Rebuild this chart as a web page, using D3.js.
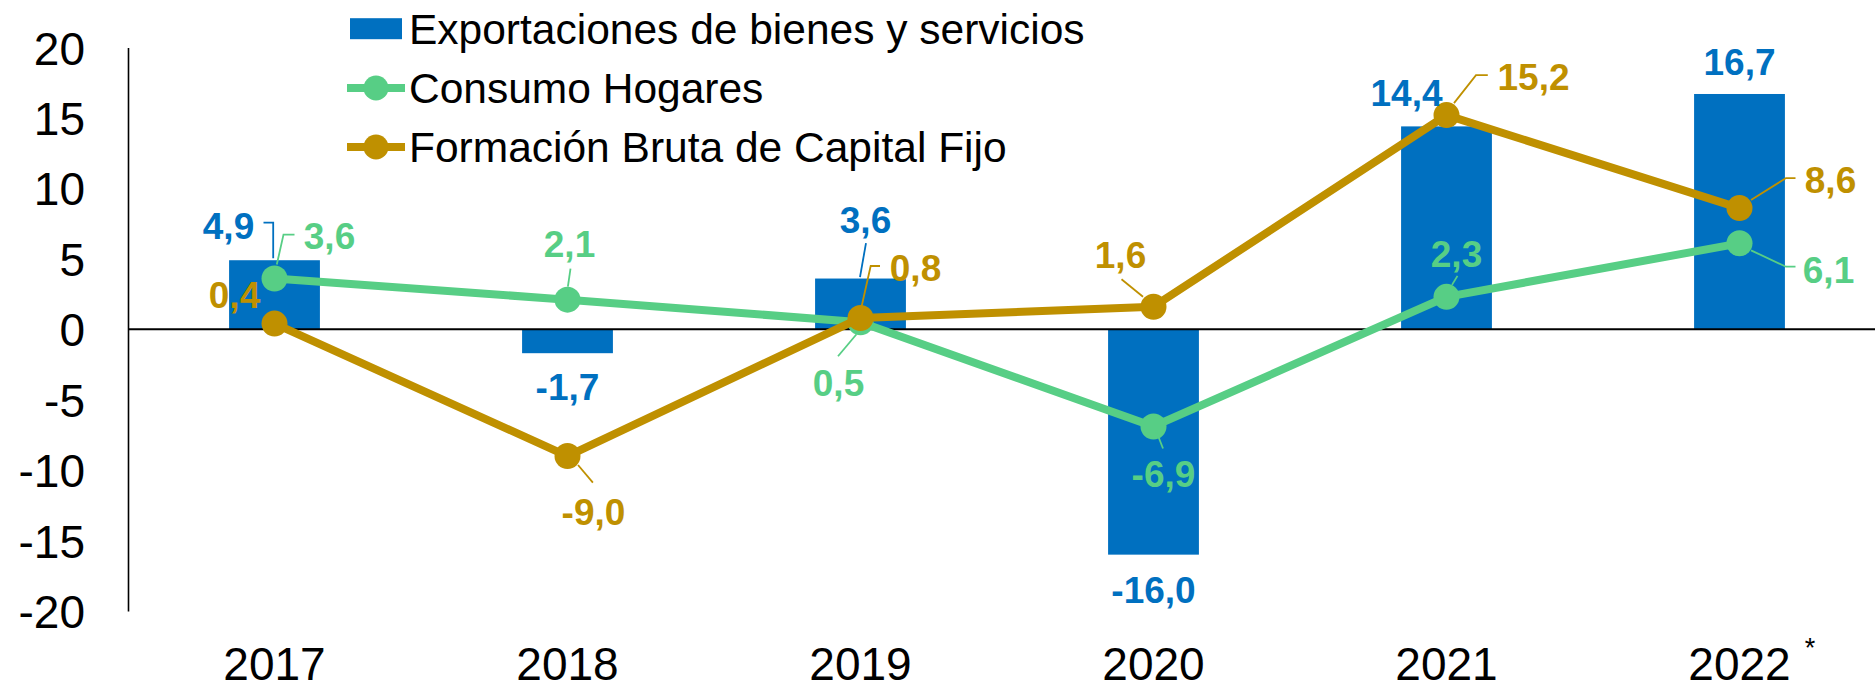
<!DOCTYPE html>
<html>
<head>
<meta charset="utf-8">
<script src="https://cdn.jsdelivr.net/npm/d3@7"></script>
<style>
  html, body { margin: 0; padding: 0; background: #ffffff; }
  svg { display: block; font-family: "Liberation Sans", Arial, sans-serif; }
</style>
</head>
<body>
<svg id="chart" width="1875" height="689"></svg>
<script>
// ---- Data ----
const years = ["2017", "2018", "2019", "2020", "2021", "2022"];
const exportaciones = [4.9, -1.7, 3.6, -16.0, 14.4, 16.7];
const consumo = [3.6, 2.1, 0.5, -6.9, 2.3, 6.1];
const formacion = [0.4, -9.0, 0.8, 1.6, 15.2, 8.6];
const yTicks = [20, 15, 10, 5, 0, -5, -10, -15, -20];
const seriesNames = ["Exportaciones de bienes y servicios", "Consumo Hogares", "Formación Bruta de Capital Fijo"];

// ---- Label placement (offsets relative to the data point, px) ----
const expLabelOffsets = [[-46, -34], [0, 34], [5, -58], [0, 35], [-40, -33], [0, -32]];
const conLabelOffsets = [[55, -42], [2, -56], [-22, 61], [10, 48], [10, -43], [89, 27]];
const forLabelOffsets = [[-40, -29], [26, 56], [55, -50], [-33, -52], [87, -38], [91, -28]];
const expLeaders = [[[-11, -37.5], [-1.3, -37.5], [-1.3, -2]], null, [[5.5, -35.5], [-0.5, -1.5]], null, null, null];
const conLeaders = [[[20, -44], [9, -44], [2.3, -14]], [[3, -31], [0.4, -13]], [[-22.5, 34], [-4, 12]],
                    [[2.5, 4], [9.5, 22]], [[11, -21], [5.5, -12]], [[11.5, 7], [46.5, 23.4], [56, 23.4]]];
const forLeaders = [null, [[10.5, 9], [25.4, 26.6]], [[19.5, -52], [10.2, -52], [1.2, -12]],
                    [[-32, -27.4], [-10.5, -10]], [[41.3, -40], [29.5, -40], [7.5, -12]],
                    [[11.5, -8], [46.5, -30], [56, -30]]];

const colBlue = "#0070C0", colGreen = "#57CE85", colGold = "#BF9000";

const svg = d3.select("#chart");
const x = d3.scaleBand().domain(years).range([128, 1886]).padding(0);
const y = d3.scaleLinear().domain([-20, 20]).range([611, 47.5]);
const cx = d => x(d) + x.bandwidth() / 2;
const barW = x.bandwidth() * 0.31;
const fmt = v => d3.format(".1f")(v).replace(".", ",").replace("−", "-");

// bars
svg.append("g").selectAll("rect").data(years).join("rect")
  .attr("x", d => cx(d) - barW / 2)
  .attr("width", barW)
  .attr("y", (d, i) => y(Math.max(0, exportaciones[i])))
  .attr("height", (d, i) => Math.abs(y(exportaciones[i]) - y(0)))
  .attr("fill", colBlue);

// y axis
const yAxis = d3.axisLeft(y).tickValues(yTicks).tickSize(0).tickPadding(43).tickFormat(d => d3.format("d")(d).replace("−", "-"));
const gy = svg.append("g").attr("transform", "translate(128,0)").call(yAxis);
gy.select(".domain").attr("stroke", "#000").attr("stroke-width", 1.6);
gy.selectAll("text").attr("font-size", 46).attr("fill", "#000").attr("dy", "0.36em")
  .attr("font-family", "'Liberation Sans', Arial, sans-serif");

// zero line
svg.append("line").attr("x1", 128).attr("x2", 1875).attr("y1", y(0)).attr("y2", y(0))
  .attr("stroke", "#000").attr("stroke-width", 1.8);

// x labels
const xAxis = d3.axisBottom(x).tickSize(0).tickPadding(0);
const gx = svg.append("g").attr("transform", "translate(0,680)").call(xAxis);
gx.select(".domain").remove();
gx.selectAll("text").attr("font-size", 46).attr("fill", "#000").attr("dy", 0)
  .attr("font-family", "'Liberation Sans', Arial, sans-serif");
svg.append("text").attr("x", 1810).attr("y", 657).attr("text-anchor", "middle")
  .attr("font-size", 27).attr("fill", "#000").text("*");

// lines
function drawLine(vals, color) {
  const line = d3.line().x((d, i) => cx(years[i])).y(d => y(d));
  svg.append("path").datum(vals).attr("d", line).attr("fill", "none")
    .attr("stroke", color).attr("stroke-width", 8).attr("stroke-linejoin", "round");
  svg.append("g").selectAll("circle").data(vals).join("circle")
    .attr("cx", (d, i) => cx(years[i])).attr("cy", d => y(d)).attr("r", 13).attr("fill", color);
}
drawLine(consumo, colGreen);
drawLine(formacion, colGold);

// labels + leaders
function drawLabels(vals, offsets, leaders, color) {
  const g = svg.append("g");
  vals.forEach((v, i) => {
    const px = cx(years[i]), py = y(v);
    if (leaders[i]) {
      g.append("polyline")
        .attr("points", leaders[i].map(p => [px + p[0], py + p[1]].join(",")).join(" "))
        .attr("fill", "none").attr("stroke", color).attr("stroke-width", 1.8);
    }
    g.append("text").attr("x", px + offsets[i][0]).attr("y", py + offsets[i][1])
      .attr("dy", "0.35em").attr("text-anchor", "middle")
      .attr("font-size", 37).attr("font-weight", "bold").attr("fill", color)
      .text(fmt(v));
  });
}
drawLabels(exportaciones, expLabelOffsets, expLeaders, colBlue);
drawLabels(consumo, conLabelOffsets, conLeaders, colGreen);
drawLabels(formacion, forLabelOffsets, forLeaders, colGold);

// legend
const legendColors = [colBlue, colGreen, colGold];
const lg = svg.append("g");
const rowY = [28.7, 88, 147];
seriesNames.forEach((name, i) => {
  const ry = rowY[i];
  if (i === 0) {
    lg.append("rect").attr("x", 350).attr("y", ry - 10.5).attr("width", 52).attr("height", 21).attr("fill", legendColors[i]);
  } else {
    lg.append("line").attr("x1", 347).attr("x2", 405).attr("y1", ry).attr("y2", ry)
      .attr("stroke", legendColors[i]).attr("stroke-width", 8);
    lg.append("circle").attr("cx", 376).attr("cy", ry).attr("r", 12.5).attr("fill", legendColors[i]);
  }
  lg.append("text").attr("x", 409).attr("y", ry).attr("dy", "0.35em")
    .attr("font-size", 42.5).attr("fill", "#000").text(name);
});
</script>
</body>
</html>
